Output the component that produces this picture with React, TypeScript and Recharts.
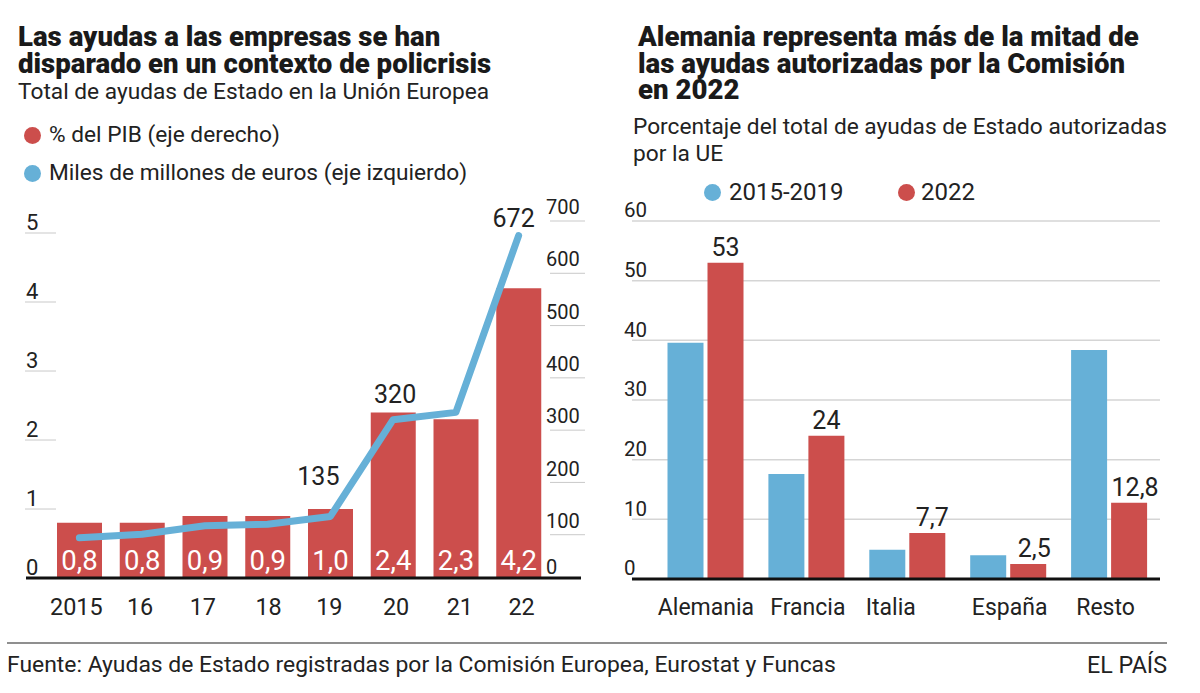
import {
  Bar,
  BarChart,
  CartesianGrid,
  ComposedChart,
  LabelList,
  Line,
  ReferenceLine,
  XAxis,
  YAxis,
} from 'recharts';

const RED = '#cc4e4c';
const BLUE = '#66b0d7';
const INK = '#222222';
const RULE = '#c9c9c9';
const FONT = 'Roboto, sans-serif';

// left chart
const years = ['2015', '16', '17', '18', '19', '20', '21', '22'];
const pctGdp = [0.8, 0.8, 0.9, 0.9, 1.0, 2.4, 2.3, 4.2];
const billions = [94, 101, 117, 120, 135, 320, 334, 672];
const pctTicks = [0, 1, 2, 3, 4, 5];
const billionTicks = [0, 100, 200, 300, 400, 500, 600, 700];
const labelledYears = ['19', '20', '22'];

// right chart
const countries = ['Alemania', 'Francia', 'Italia', 'España', 'Resto'];
const share2015 = [39.6, 17.6, 4.9, 4.0, 38.4];
const share2022 = [53, 24, 7.7, 2.5, 12.8];
const shareTicks = [0, 10, 20, 30, 40, 50, 60];

const yearRows = years.map((year, i) => ({ year, pct: pctGdp[i], total: billions[i] }));
const countryRows = countries.map((country, i) => ({
  country,
  before: share2015[i],
  after: share2022[i],
}));

const comma = (v: number, digits = 0) => v.toFixed(digits).replace('.', ',');

// small manual nudges, the labels in the original are hand placed
const yearTickShift: Record<string, number> = { '2015': -3, '16': -2, '17': -2, '18': 1, '19': -1, '20': 3, '21': 4, '22': 3 };
const countryTickShift: Record<string, number> = { Alemania: 0, Francia: 1, Italia: -17, 'España': 1, Resto: -4 };
const lineLabelShift: Record<string, [number, number]> = { '19': [-12, -40], '20': [2, -26], '22': [-5, -18] };

function Txt({ x, y, size = 22.7, weight = 400, children, color = INK }: any) {
  return (
    <div
      style={{
        position: 'absolute',
        left: x,
        top: y - 15,
        height: 30,
        lineHeight: '30px',
        fontFamily: FONT,
        fontSize: size,
        fontWeight: weight,
        color,
        whiteSpace: 'nowrap',
      }}
    >
      {children}
    </div>
  );
}

// headline: one block so the tight leading stays as in the paper
function Title({ x, y, lines }: { x: number; y: number; lines: string[] }) {
  return (
    <div
      style={{
        position: 'absolute',
        left: x,
        top: y,
        lineHeight: '26.5px',
        fontFamily: FONT,
        fontSize: 27.6,
        fontWeight: 900,
        color: '#1a1a1a',
        whiteSpace: 'nowrap',
      }}
    >
      {lines.map((line, i) => (
        <span key={i}>
          {line}
          <br />
        </span>
      ))}
    </div>
  );
}

function Dot({ x, y, color }: { x: number; y: number; color: string }) {
  return (
    <div
      style={{
        position: 'absolute',
        left: x - 8.5,
        top: y - 8.5,
        width: 17,
        height: 17,
        borderRadius: '50%',
        background: color,
      }}
    />
  );
}

function PctTick({ x, y, payload }: any) {
  return (
    <g>
      {payload.value !== 0 && <line x1={x - 1} x2={x + 30} y1={y} y2={y} stroke={RULE} />}
      <text x={x} y={y - 11} dy="0.36em" fontFamily={FONT} fontSize={22} fill={INK}>
        {payload.value}
      </text>
    </g>
  );
}

function BillionTick({ x, y, payload }: any) {
  // the zero sits below the baseline in the source, so its label is lifted
  if (payload.value === 0) {
    return (
      <text x={x - 35} y={y - 20} dy="0.36em" fontFamily={FONT} fontSize={20} fill={INK}>
        0
      </text>
    );
  }
  return (
    <g>
      <line x1={x - 31} x2={x + 4} y1={y} y2={y} stroke={RULE} />
      <text x={x - 35} y={y - 14} dy="0.36em" fontFamily={FONT} fontSize={20} fill={INK}>
        {payload.value}
      </text>
    </g>
  );
}

function ShareTick({ x, y, payload }: any) {
  return (
    <text x={x - 8} y={y - 11} dy="0.36em" fontFamily={FONT} fontSize={20.5} fill={INK}>
      {payload.value}
    </text>
  );
}

function YearTick({ x, y, payload }: any) {
  return (
    <text x={x + yearTickShift[payload.value]} y={y + 20} dy="0.36em" textAnchor="middle" fontFamily={FONT} fontSize={23.4} fill={INK}>
      {payload.value}
    </text>
  );
}

function CountryTick({ x, y, payload }: any) {
  return (
    <text x={x + countryTickShift[payload.value]} y={y + 28} dy="0.36em" textAnchor="middle" fontFamily={FONT} fontSize={23} fill={INK}>
      {payload.value}
    </text>
  );
}

function PctLabel({ x, y, width, height, value }: any) {
  return (
    <text x={x + width / 2} y={y + height - 18} dy="0.36em" textAnchor="middle" fontFamily={FONT} fontSize={27.5} fill="#ffffff">
      {comma(value, 1)}
    </text>
  );
}

function TotalLabel({ x, y, index, value }: any) {
  const year = years[index];
  if (!labelledYears.includes(year)) return null;
  const [dx, dy] = lineLabelShift[year];
  return (
    <text x={x + dx} y={y + dy} dy="0.36em" textAnchor="middle" fontFamily={FONT} fontSize={25} fill={INK}>
      {value}
    </text>
  );
}

function ShareLabel({ x, y, width, value, index }: any) {
  const nudge = [0, 0, 5, 6, 6][index];
  return (
    <text x={x + width / 2 + nudge} y={y - 16} dy="0.36em" textAnchor="middle" fontFamily={FONT} fontSize={25} fill={INK}>
      {comma(value, Number.isInteger(value) ? 0 : 1)}
    </text>
  );
}

export default function App() {
  return (
    <div
      style={{
        position: 'absolute',
        left: 0,
        top: 0,
        width: 1200,
        height: 693,
        background: '#ffffff',
        overflow: 'hidden',
      }}
    >
      <Title x={18} y={24} lines={['Las ayudas a las empresas se han', 'disparado en un contexto de policrisis']} />
      <Txt x={18} y={92}>Total de ayudas de Estado en la Unión Europea</Txt>
      <Dot x={32} y={135} color={RED} />
      <Txt x={49} y={135}>% del PIB (eje derecho)</Txt>
      <Dot x={32} y={173} color={BLUE} />
      <Txt x={49} y={173}>Miles de millones de euros (eje izquierdo)</Txt>

      <Title x={638} y={24} lines={['Alemania representa más de la mitad de', 'las ayudas autorizadas por la Comisión', 'en 2022']} />
      <Txt x={633} y={127}>Porcentaje del total de ayudas de Estado autorizadas</Txt>
      <Txt x={633} y={154}>por la UE</Txt>
      <Dot x={712} y={192} color={BLUE} />
      <Txt x={729} y={192} size={24}>2015-2019</Txt>
      <Dot x={906} y={192} color={RED} />
      <Txt x={921} y={192} size={24}>2022</Txt>

      <div style={{ position: 'absolute', left: 0, top: 0 }}>
        <ComposedChart
          width={600}
          height={693}
          data={yearRows}
          margin={{ top: 221, right: 0, bottom: 76, left: 0 }}
        >
          <XAxis
            dataKey="year"
            height={30}
            axisLine={false}
            tickLine={false}
            tickSize={0}
            tickMargin={0}
            interval={0}
            padding={{ left: 22, right: 31 }}
            tick={<YearTick />}
          />
          <YAxis
            yAxisId="pct"
            width={26}
            domain={[-0.13, 5.174]}
            ticks={pctTicks}
            allowDataOverflow
            axisLine={false}
            tickLine={false}
            tickSize={0}
            tickMargin={0}
            interval={0}
            tick={<PctTick />}
          />
          <YAxis
            yAxisId="total"
            orientation="right"
            width={19}
            domain={[0, 700]}
            ticks={billionTicks}
            axisLine={false}
            tickLine={false}
            tickSize={0}
            tickMargin={0}
            interval={0}
            tick={<BillionTick />}
          />
          <Bar yAxisId="pct" dataKey="pct" name="% del PIB (eje derecho)" fill={RED} barSize={45} isAnimationActive={false}>
            <LabelList dataKey="pct" content={<PctLabel />} />
          </Bar>
          <Line
            yAxisId="total"
            dataKey="total"
            name="Miles de millones de euros (eje izquierdo)"
            type="linear"
            stroke={BLUE}
            strokeWidth={7}
            strokeLinecap="round"
            strokeLinejoin="round"
            dot={false}
            activeDot={false}
            isAnimationActive={false}
          >
            <LabelList dataKey="total" content={<TotalLabel />} />
          </Line>
          <ReferenceLine yAxisId="pct" y={0} stroke="#111111" strokeWidth={3} />
        </ComposedChart>
      </div>

      <div style={{ position: 'absolute', left: 600, top: 0 }}>
        <BarChart
          width={600}
          height={693}
          data={countryRows}
          barSize={36}
          barGap={4}
          margin={{ top: 221, right: 40, bottom: 84, left: 0 }}
        >
          <CartesianGrid horizontal vertical={false} stroke="#d5d5d5" strokeWidth={1.5} />
          <XAxis
            dataKey="country"
            height={30}
            axisLine={false}
            tickLine={false}
            tickSize={0}
            tickMargin={0}
            interval={0}
            padding={{ left: 23.5, right: 0 }}
            tick={<CountryTick />}
          />
          <YAxis
            width={32}
            domain={[0, 60]}
            ticks={shareTicks}
            axisLine={false}
            tickLine={false}
            tickSize={0}
            tickMargin={0}
            interval={0}
            tick={<ShareTick />}
          />
          <Bar dataKey="before" name="2015-2019" fill={BLUE} isAnimationActive={false} />
          <Bar dataKey="after" name="2022" fill={RED} isAnimationActive={false}>
            <LabelList dataKey="after" content={<ShareLabel />} />
          </Bar>
          <ReferenceLine y={0} stroke="#111111" strokeWidth={3} />
        </BarChart>
      </div>

      <div style={{ position: 'absolute', left: 7, top: 642, width: 1160, height: 2, background: '#8f8f8f' }} />
      <Txt x={7} y={665} size={22.9}>Fuente: Ayudas de Estado registradas por la Comisión Europea, Eurostat y Funcas</Txt>
      <div
        style={{
          position: 'absolute',
          right: 33,
          top: 650,
          height: 30,
          lineHeight: '30px',
          fontFamily: FONT,
          fontSize: 23.3,
          color: INK,
        }}
      >
        EL PAÍS
      </div>
    </div>
  );
}
